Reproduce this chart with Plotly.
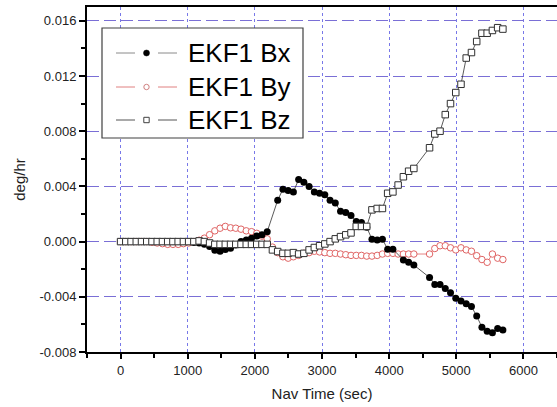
import plotly.graph_objects as go

# ---------------- data ----------------
t_full = [0, 78, 156, 234, 312, 390, 468, 546, 624, 702, 780, 858, 936, 1014,
          1092, 1170, 1248, 1326, 1404, 1482, 1560, 1638, 1716, 1794, 1872, 1950,
          2028, 2106, 2184, 2262, 2340, 2418, 2496, 2574, 2652, 2730, 2808, 2886,
          2964, 3042, 3120, 3198, 3276, 3354, 3432, 3510, 3588, 3666, 3744, 3822,
          3900, 3978, 4056, 4134, 4212, 4290, 4368,
          4602, 4680, 4758, 4836, 4914, 4992, 5070, 5148, 5226, 5304, 5382, 5460,
          5538, 5616, 5694]

t_bx = [0, 78, 156, 234, 312, 390, 468, 546, 624, 702, 780, 858, 936, 1014,
        1092, 1170, 1248, 1326, 1404, 1482, 1560, 1638, 1716, 1794, 1872, 1950,
        2028, 2106, 2184, 2340, 2418, 2496, 2574, 2652, 2730, 2808, 2886,
        2964, 3042, 3120, 3198, 3276, 3354, 3432, 3510, 3588, 3666, 3744, 3822,
        3900, 3978, 4056, 4212, 4290, 4368,
        4602, 4680, 4758, 4836, 4914, 4992, 5070, 5148, 5226, 5304, 5382, 5460,
        5538, 5616, 5694]

bx = [0, 0, 0, 0, 0, 0, 0, 0, 0, 0, 0, 0, 0, 0,
      -0.00007, -0.0001, -0.0002, -0.00036, -0.00062, -0.0007, -0.00058, -0.00048,
      -0.00024, 0.0, 0.00012, 0.00025, 0.0004, 0.0005, 0.00072,
      0.0030, 0.0038, 0.0037, 0.0036, 0.0045, 0.0043, 0.0040, 0.0036, 0.0035,
      0.0034, 0.0030, 0.0028, 0.0022, 0.0021, 0.0019, 0.00145, 0.00138, 0.00104,
      0.00017, 0.00012, 0.00017, -0.00055, -0.00055,
      -0.00133, -0.0015, -0.0017,
      -0.0026, -0.0031, -0.0031, -0.0034, -0.0037, -0.0041, -0.0043, -0.0045,
      -0.0047, -0.0054, -0.0062, -0.0065, -0.0066, -0.0063, -0.0064]

by = [0, 0, 0, 0, 0, 0, -0.00005, -0.0001, -0.00015, -0.0002, -0.0002, -0.0002,
      -0.00015, -0.0001, 0.0, 0.0001, 0.00025, 0.0005, 0.00078, 0.00097, 0.0011,
      0.001, 0.00097, 0.0009, 0.00078, 0.00072, 0.0006, 0.0004, 0.0002,
      -0.0004, -0.0008, -0.0011, -0.0012, -0.0011, -0.001, -0.00085, -0.0008,
      -0.0007, -0.00075, -0.0008, -0.00085, -0.00085, -0.0009, -0.00095, -0.001,
      -0.001, -0.001, -0.00105, -0.00105, -0.001, -0.0009, -0.00085, -0.00085,
      -0.0009, -0.0009, -0.0009, -0.0009,
      -0.0009, -0.0005, -0.0003, -0.0003, -0.00045, -0.0006, -0.00045, -0.0006,
      -0.0007, -0.00102, -0.0013, -0.0015, -0.0009, -0.0012, -0.0013]

bz = [0, 0, 0, 0, 0, 0, 0, 0, 0, 0, 0, 0, 0, 0, 0,
      0.00005, 0.0, -0.0001,
      -0.0002, -0.0002, -0.0002, -0.0002, -0.0002, -0.0002, -0.0002, -0.0002,
      -0.0002, -0.0002, -0.0002,
      -0.0006, -0.00072, -0.00085, -0.00085, -0.0008, -0.0009, -0.00085, -0.0006,
      -0.00043, -0.0003, -0.00017, 0.0, 0.0002, 0.00036, 0.00049, 0.00063,
      0.0011, 0.0011, 0.0011, 0.0023, 0.0024, 0.0024, 0.0035, 0.0036, 0.0041,
      0.0047, 0.0051, 0.0053,
      0.0068, 0.0078, 0.0080, 0.0092, 0.0100, 0.0108, 0.0114, 0.0133, 0.0137,
      0.0145, 0.0151, 0.0151, 0.0153, 0.0155, 0.0154]

series_names = ["EKF1 Bx", "EKF1 By", "EKF1 Bz"]
x_ticks = [0, 1000, 2000, 3000, 4000, 5000, 6000]
y_ticks = [-0.008, -0.004, 0.000, 0.004, 0.008, 0.012, 0.016]
y_ticktext = ["-0.008", "-0.004", "0.000", "0.004", "0.008", "0.012", "0.016"]

# ---------------- figure ----------------
W, H = 557, 407
ML, MR, MT, MB = 87, 0, 7, 55
PW, PH = W - ML - MR, H - MT - MB

FONT = "Arial, Liberation Sans, sans-serif"
RED = "#E06464"

fig = go.Figure()

fig.add_trace(go.Scatter(
    x=t_full, y=by, mode="lines+markers", name=series_names[1],
    line=dict(color=RED, width=0.8),
    marker=dict(symbol="circle", size=6.5, color="white",
                line=dict(color=RED, width=1)),
    showlegend=False))

fig.add_trace(go.Scatter(
    x=t_bx, y=bx, mode="lines+markers", name=series_names[0],
    line=dict(color="#303030", width=0.8),
    marker=dict(symbol="circle", size=7, color="black",
                line=dict(color="black", width=0)),
    showlegend=False))

fig.add_trace(go.Scatter(
    x=t_full, y=bz, mode="lines+markers", name=series_names[2],
    line=dict(color="#303030", width=0.8),
    marker=dict(symbol="square", size=6.5, color="white",
                line=dict(color="#303030", width=1)),
    showlegend=False))


def px_x(p):
    return (p - ML) / PW


def px_y(p):
    return (H - MB - p) / PH


# ---------------- hand-drawn legend (layout decoration) ----------------
shapes = []
annotations = []
shapes.append(dict(type="rect", xref="paper", yref="paper",
                   x0=px_x(102), x1=px_x(303), y0=px_y(138), y1=px_y(28),
                   line=dict(color="#404040", width=1.2), fillcolor="white",
                   layer="above"))
rows = [53, 87, 120]
line_cols = ["#8a8a8a", "#E08080", "#555555"]
for i, ry in enumerate(rows):
    for a, b in [(116, 135), (158, 177)]:
        shapes.append(dict(type="line", xref="paper", yref="paper",
                           x0=px_x(a), x1=px_x(b), y0=px_y(ry), y1=px_y(ry),
                           line=dict(color=line_cols[i], width=1), layer="above"))
    cx = 146.5
    if i == 0:
        shapes.append(dict(type="circle", xref="paper", yref="paper",
                           x0=px_x(cx - 3), x1=px_x(cx + 3),
                           y0=px_y(ry + 3), y1=px_y(ry - 3),
                           line=dict(color="black", width=0.5),
                           fillcolor="black", layer="above"))
    elif i == 1:
        shapes.append(dict(type="circle", xref="paper", yref="paper",
                           x0=px_x(cx - 2.7), x1=px_x(cx + 2.7),
                           y0=px_y(ry + 2.7), y1=px_y(ry - 2.7),
                           line=dict(color="#D08080", width=1),
                           fillcolor="white", layer="above"))
    else:
        shapes.append(dict(type="rect", xref="paper", yref="paper",
                           x0=px_x(cx - 2.7), x1=px_x(cx + 2.7),
                           y0=px_y(ry + 2.7), y1=px_y(ry - 2.7),
                           line=dict(color="#404040", width=1),
                           fillcolor="white", layer="above"))
    annotations.append(dict(xref="paper", yref="paper", x=px_x(186), y=px_y(ry),
                            xanchor="left", yanchor="middle", showarrow=False,
                            text=series_names[i],
                            font=dict(family=FONT, size=26, color="black")))

fig.update_layout(
    width=W, height=H,
    margin=dict(l=ML, r=MR, t=MT, b=MB, pad=0),
    paper_bgcolor="white", plot_bgcolor="white",
    font=dict(family=FONT, color="#222222", size=13),
    shapes=shapes, annotations=annotations,
    showlegend=False,
)

fig.update_xaxes(
    range=[-500, 6500], tickvals=x_ticks,
    showline=True, linecolor="black", linewidth=2, mirror=True,
    ticks="outside", ticklen=5, tickwidth=1.5, tickcolor="black",
    minor=dict(dtick=500, tick0=0, ticks="outside", ticklen=4, tickwidth=1.5,
               tickcolor="black", showgrid=False),
    showgrid=True, gridcolor="#7878E8", gridwidth=1, griddash="dot",
    zeroline=False,
    tickfont=dict(family=FONT, size=13, color="#222222"),
    title=dict(text="Nav Time (sec)", standoff=12,
               font=dict(family=FONT, size=15, color="#222222")),
)

fig.update_yaxes(
    range=[-0.008, 0.017], tickvals=y_ticks, ticktext=y_ticktext,
    showline=True, linecolor="black", linewidth=2, mirror=False,
    ticks="outside", ticklen=6, tickwidth=1.5, tickcolor="black",
    minor=dict(dtick=0.002, tick0=0, ticks="outside", ticklen=4, tickwidth=1.5,
               tickcolor="black", showgrid=False),
    showgrid=True, gridcolor="#7A6FD6", gridwidth=1, griddash="12px,5px",
    zeroline=False,
    tickfont=dict(family=FONT, size=13, color="#222222"),
    title=dict(text="deg/hr", standoff=10,
               font=dict(family=FONT, size=15, color="#222222")),
)

fig.write_html("out.html")
